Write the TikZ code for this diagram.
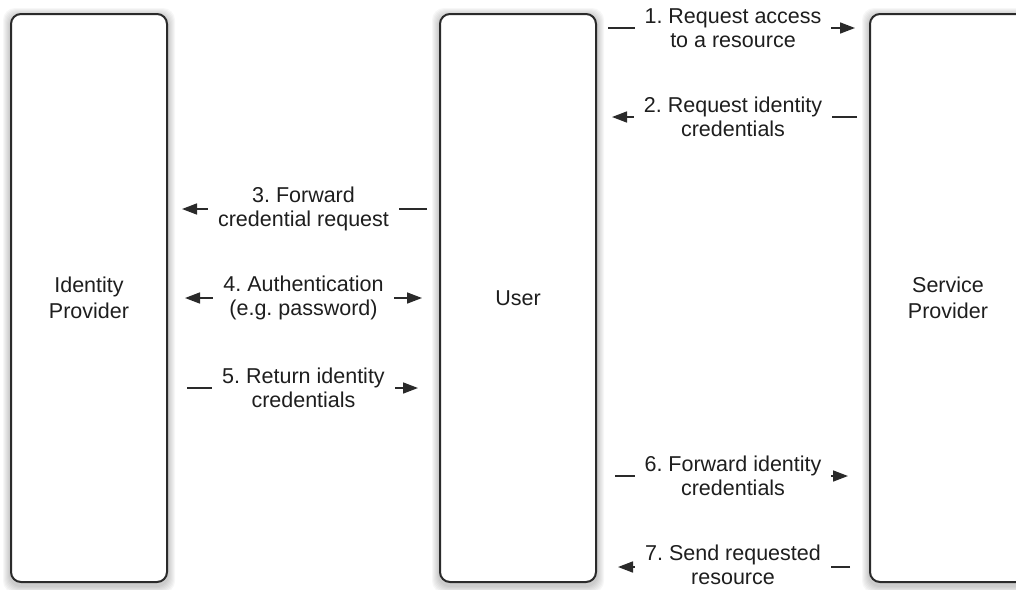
\documentclass[tikz,border=0pt]{standalone}
\usepackage{fontspec}
\setmainfont{Liberation Sans}
\usetikzlibrary{arrows.meta}
\definecolor{ink}{HTML}{1E1E1E}
\definecolor{edge}{HTML}{2A2A2A}
\frenchspacing
\begin{document}
\begin{tikzpicture}[x=1pt,y=-1pt,
  box/.style={draw=edge, line width=2pt, fill=white, rounded corners=10pt,
    minimum width=156pt, minimum height=568pt, align=center, inner sep=0pt,
    font=\fontsize{21.5}{26.5}\selectfont, text=ink},
  conn/.style={draw=edge, line width=1.6pt, -{Triangle[length=15pt,width=11pt]}},
  dconn/.style={draw=edge, line width=1.6pt, {Triangle[length=15pt,width=11pt]}-{Triangle[length=15pt,width=11pt]}},
  lbl/.style={fill=white, inner xsep=10pt, inner ysep=1pt, align=center,
    font=\fontsize{21.5}{24}\selectfont, text=ink}]
\useasboundingbox (0,0) rectangle (1016,589);
\clip (0,0) rectangle (1016,589);
% soft shadows
\foreach \cx in {89,518,948}{
  \foreach \i in {1,...,7}{
    \fill[black, opacity=0.03, rounded corners=12pt]
      (\cx-79-\i, 15-\i) rectangle (\cx+79+\i, 586+\i);
  }
}
% boxes
\node[box] (idp)  at (89,298)  {Identity\\Provider};
\node[box] (user) at (518,298) {User};
\node[box] (sp)   at (948,298) {Service\\Provider};
% rows
\coordinate (r1) at (0,28);
\coordinate (r2) at (0,117);
\coordinate (r3) at (0,209);
\coordinate (r4) at (0,298);
\coordinate (r5) at (0,388);
\coordinate (r6) at (0,476);
\coordinate (r7) at (0,567);
% connectors
\draw[conn, shorten <=11pt, shorten >=14pt] (user.east |- r1) -- node[lbl]{1. Request access\\to a resource} (sp.west |- r1);
\draw[conn, shorten <=12pt, shorten >=15pt] (sp.west |- r2) -- node[lbl]{2. Request identity\\credentials} (user.east |- r2);
\draw[conn, shorten <=12pt, shorten >=14pt] (user.west |- r3) -- node[lbl]{3. Forward\\credential request} (idp.east |- r3);
\draw[dconn, shorten <=17pt, shorten >=17pt] (idp.east |- r4) -- node[lbl]{4. Authentication\\(e.g. password)} (user.west |- r4);
\draw[conn, shorten <=19pt, shorten >=21pt] (idp.east |- r5) -- node[lbl]{5. Return identity\\credentials} (user.west |- r5);
\draw[conn, shorten <=18pt, shorten >=21pt] (user.east |- r6) -- node[lbl]{6. Forward identity\\credentials} (sp.west |- r6);
\draw[conn, shorten <=19pt, shorten >=21pt] (sp.west |- r7) -- node[lbl, yshift=2.5pt]{7. Send requested\\resource} (user.east |- r7);
\end{tikzpicture}
\end{document}
